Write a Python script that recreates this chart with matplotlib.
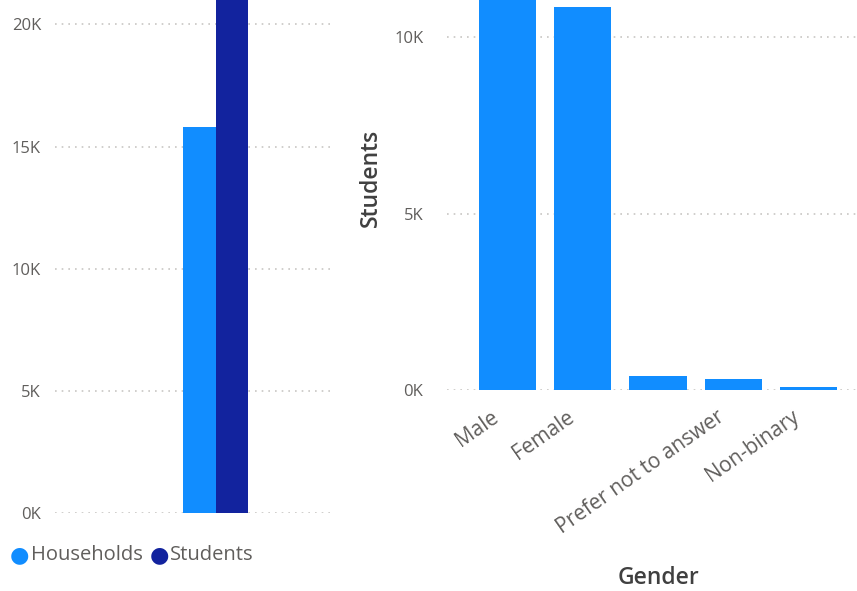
import matplotlib.pyplot as plt
import matplotlib.transforms as mtransforms
import numpy as np

# left chart: totals
series_names = ['Households', 'Students']
series_totals = [15800, 22000]

# right chart: students by gender (third bar shows no label in the original)
genders = ['Male', 'Female', '', 'Prefer not to answer', 'Non-binary']
gender_students = [11300, 10850, 400, 310, 80]

light_blue = '#118DFF'
navy = '#12239E'
grey_text = '#605E5C'
grid_col = '#C8C6C4'

plt.rcParams['font.family'] = ['Open Sans', 'DejaVu Sans']

fig = plt.figure(figsize=(8.57, 5.91), dpi=100)
W, H = 857, 591

def px_axes(x0, y0, x1, y1):
    # axes from pixel box (top-left origin)
    return fig.add_axes([x0 / W, 1 - y1 / H, (x1 - x0) / W, (y1 - y0) / H])

def style(ax):
    for s in ax.spines.values():
        s.set_visible(False)
    ax.tick_params(length=0, labelsize=12, labelcolor=grey_text)
    ax.yaxis.grid(True, linestyle=(0, (1, 3)), color=grid_col, linewidth=1.2)
    ax.set_axisbelow(True)

# ---- left chart
ax1 = px_axes(55, 0, 335, 513)
style(ax1)
offsets = [-0.25, 0.25]
colors = [light_blue, navy]
for off, val, c, name in zip(offsets, series_totals, colors, series_names):
    ax1.bar(off, val, width=0.5, color=c, label=name)
ax1.set_xlim(-2.47, 1.83)
ax1.set_ylim(0, 21000)
ax1.set_yticks([0, 5000, 10000, 15000, 20000])
ax1.set_yticklabels(['0K', '5K', '10K', '15K', '20K'])
ax1.set_xticks([])
ax1.tick_params(axis='y', pad=10)

# legend as markers + text
leg_y = 1 - 555 / H
fig.text(10 / W, leg_y, '\u25CF', color=light_blue, fontsize=16, va='center', family='DejaVu Sans')
fig.text(31 / W, leg_y, series_names[0], color=grey_text, fontsize=14.5, va='center')
fig.text(150 / W, leg_y, '\u25CF', color=navy, fontsize=16, va='center', family='DejaVu Sans')
fig.text(170 / W, leg_y, series_names[1], color=grey_text, fontsize=14.5, va='center')

# ---- right chart
ax2 = px_axes(447, 0, 857, 390)
style(ax2)
xpos = np.arange(len(genders))
ax2.bar(xpos, gender_students, width=0.76, color=light_blue)
ax2.set_xlim(-0.81, 4.65)
ax2.set_ylim(0, 11050)
ax2.set_yticks([0, 5000, 10000])
ax2.set_yticklabels(['0K', '5K', '10K'])
ax2.tick_params(axis='y', pad=17)
ax2.set_xticks(xpos)
ax2.set_xticklabels(genders, rotation=35, ha='right', rotation_mode='anchor',
                    fontsize=15)
ax2.tick_params(axis='x', pad=12)
# nudge the rotated labels left so they end just before the bar centre
shift = mtransforms.ScaledTranslation(-17 / 100, 0, fig.dpi_scale_trans)
for lbl in ax2.get_xticklabels():
    lbl.set_transform(lbl.get_transform() + shift)
ax2.set_ylabel('Students', fontsize=16.5, color='#404040', fontweight='semibold')
ax2.yaxis.set_label_coords(-0.156, 0.544)
ax2.set_xlabel('Gender', fontsize=16.5, color='#404040', fontweight='semibold')
ax2.xaxis.set_label_coords(0.517, -0.451)

fig.savefig('out.png', dpi=100)
